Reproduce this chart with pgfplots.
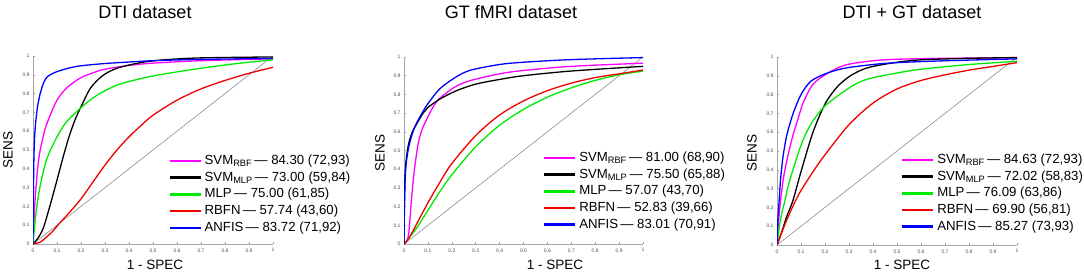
\documentclass[border=0pt]{standalone}
\usepackage{pgfplots}
\pgfplotsset{compat=1.18}
\usepackage{fontspec}
\setmainfont{Liberation Sans}
\definecolor{cmag}{RGB}{255,0,255}
\definecolor{cgreen}{RGB}{0,235,0}
\definecolor{cred}{RGB}{240,0,0}
\definecolor{cblue}{RGB}{0,0,255}
\pgfplotsset{
  rocaxis/.style={
    scale only axis, width=240pt, height=188pt,
    xmin=0, xmax=1, ymin=0, ymax=1,
    axis lines=left, axis line style={-, black!35, line width=0.8pt},
    xtick={0,0.1,0.2,0.3,0.4,0.5,0.6,0.7,0.8,0.9,1},
    ytick={0,0.1,0.2,0.3,0.4,0.5,0.6,0.7,0.8,0.9,1},
    tick align=inside, major tick length=2pt, tick style={black!40, line width=0.5pt},
    ticklabel style={font=\fontsize{5}{6}\selectfont, text=black!70},
    /pgf/number format/assume math mode=true,
    xticklabel style={yshift=-1pt},
    legend cell align=left,
    legend image code/.code={\draw[line width=2.6pt] (0pt,0pt) -- (31pt,0pt);},
    legend style={draw=none, fill=none, inner sep=0pt, anchor=north west,
      font=\fontsize{13.2}{16}\selectfont, row sep=1pt, column sep=2.5pt,
      nodes={inner sep=0.35pt, text height=11pt, text depth=4pt}},
    every axis plot/.append style={line width=1.3pt, smooth},
  }
}
\begin{document}
\begin{tikzpicture}
\useasboundingbox (0pt,0pt) rectangle (1084pt,276pt);
% ---------------- Panel 1
\begin{axis}[rocaxis, anchor=south west, at={(33pt,32pt)},
  legend style={at={(0.5625,0.484)}}]
\addplot[black!45, line width=0.6pt, forget plot] coordinates {(0,0) (1,1)};
\addplot[cmag] coordinates {(0,0) (0.005,0.15) (0.01,0.26) (0.015,0.34) (0.02,0.41) (0.03,0.5) (0.05,0.61) (0.07,0.68) (0.1,0.765) (0.14,0.83) (0.2,0.885) (0.26,0.915) (0.3,0.93) (0.4,0.95) (0.5,0.962) (0.7,0.975) (1,0.985)};
\addlegendentry{SVM\textsubscript{RBF}\,— 84.30 (72,93)}
\addplot[black] coordinates {(0,0) (0.02,0.03) (0.043,0.085) (0.07,0.2) (0.1,0.34) (0.125,0.46) (0.15,0.57) (0.175,0.66) (0.2,0.73) (0.24,0.83) (0.29,0.895) (0.35,0.935) (0.45,0.965) (0.55,0.98) (0.7,0.99) (1,0.995)};
\addlegendentry{SVM\textsubscript{MLP}\,— 73.00 (59,84)}
\addplot[cgreen] coordinates {(0,0) (0.005,0.07) (0.01,0.13) (0.015,0.19) (0.03,0.31) (0.057,0.45) (0.1,0.57) (0.14,0.65) (0.2,0.725) (0.265,0.79) (0.35,0.845) (0.45,0.88) (0.55,0.905) (0.7,0.935) (0.85,0.96) (1,0.98)};
\addlegendentry{MLP\,— 75.00 (61,85)}
\addplot[cred] coordinates {(0,0) (0.03,0.01) (0.05,0.03) (0.08,0.065) (0.11,0.11) (0.15,0.165) (0.2,0.24) (0.25,0.33) (0.3,0.42) (0.35,0.5) (0.4,0.57) (0.45,0.63) (0.5,0.685) (0.6,0.765) (0.7,0.825) (0.8,0.87) (0.9,0.908) (1,0.94)};
\addlegendentry{RBFN\,— 57.74 (43,60)}
\addplot[cblue] coordinates {(0,0) (0.003,0.4) (0.006,0.55) (0.01,0.63) (0.015,0.69) (0.02,0.74) (0.03,0.8) (0.045,0.86) (0.06,0.89) (0.08,0.905) (0.1,0.917) (0.15,0.936) (0.2,0.948) (0.3,0.96) (0.4,0.968) (0.5,0.975) (0.7,0.982) (1,0.987)};
\addlegendentry{ANFIS\,— 83.72 (71,92)}
\end{axis}
% ---------------- Panel 2
\begin{axis}[rocaxis, anchor=south west, at={(404pt,32pt)}, width=239pt, height=187pt,
  legend style={at={(0.58,0.504)}}]
\addplot[black!45, line width=0.6pt, forget plot] coordinates {(0,0) (1,1)};
\addplot[cmag] coordinates {(0,0) (0.01,0.01) (0.02,0.06) (0.03,0.22) (0.04,0.36) (0.05,0.46) (0.06,0.54) (0.075,0.61) (0.1,0.68) (0.125,0.74) (0.15,0.78) (0.18,0.81) (0.22,0.845) (0.28,0.875) (0.4,0.91) (0.5,0.928) (0.7,0.95) (1,0.967)};
\addlegendentry{SVM\textsubscript{RBF}\,— 81.00 (68,90)}
\addplot[black] coordinates {(0,0) (0.002,0.25) (0.005,0.38) (0.01,0.46) (0.02,0.54) (0.035,0.6) (0.05,0.635) (0.08,0.7) (0.1,0.73) (0.15,0.775) (0.22,0.82) (0.3,0.855) (0.4,0.88) (0.5,0.9) (0.7,0.925) (1,0.95)};
\addlegendentry{SVM\textsubscript{MLP}\,— 75.50 (65,88)}
\addplot[cgreen] coordinates {(0,0) (0.05,0.08) (0.1,0.18) (0.15,0.28) (0.2,0.37) (0.3,0.52) (0.4,0.635) (0.5,0.72) (0.6,0.785) (0.7,0.835) (0.8,0.875) (0.9,0.905) (1,0.925)};
\addlegendentry{MLP\,— 57.07 (43,70)}
\addplot[cred] coordinates {(0,0) (0.02,0.03) (0.05,0.1) (0.1,0.22) (0.15,0.33) (0.2,0.43) (0.3,0.58) (0.4,0.69) (0.5,0.765) (0.6,0.82) (0.7,0.86) (0.8,0.89) (0.9,0.91) (1,0.93)};
\addlegendentry{RBFN\,— 52.83 (39,66)}
\addplot[cblue] coordinates {(0,0) (0.002,0.2) (0.005,0.35) (0.01,0.44) (0.02,0.52) (0.035,0.59) (0.05,0.64) (0.08,0.71) (0.1,0.75) (0.15,0.83) (0.22,0.895) (0.28,0.93) (0.4,0.96) (0.5,0.972) (0.7,0.986) (1,0.997)};
\addlegendentry{ANFIS\,— 83.01 (70,91)}
\end{axis}
% ---------------- Panel 3
\begin{axis}[rocaxis, anchor=south west, at={(777pt,31pt)},
  legend style={at={(0.515,0.495)}}]
\addplot[black!45, line width=0.6pt, forget plot] coordinates {(0,0) (1,1)};
\addplot[cmag] coordinates {(0,0) (0.005,0.1) (0.015,0.24) (0.03,0.38) (0.05,0.5) (0.07,0.6) (0.085,0.66) (0.11,0.76) (0.15,0.855) (0.2,0.905) (0.25,0.94) (0.3,0.962) (0.4,0.98) (0.5,0.988) (0.7,0.993) (1,0.996)};
\addlegendentry{SVM\textsubscript{RBF}\,— 84.63 (72,93)}
\addplot[black] coordinates {(0,0) (0.02,0.07) (0.04,0.15) (0.066,0.235) (0.1,0.39) (0.15,0.6) (0.2,0.75) (0.25,0.84) (0.3,0.895) (0.35,0.93) (0.4,0.95) (0.5,0.972) (0.6,0.985) (0.8,0.993) (1,0.997)};
\addlegendentry{SVM\textsubscript{MLP}\,— 72.02 (58,83)}
\addplot[cgreen] coordinates {(0,0) (0.01,0.1) (0.02,0.17) (0.033,0.235) (0.05,0.33) (0.1,0.53) (0.14,0.64) (0.2,0.74) (0.3,0.835) (0.35,0.87) (0.4,0.89) (0.5,0.915) (0.6,0.935) (0.8,0.96) (1,0.977)};
\addlegendentry{MLP\,— 76.09 (63,86)}
\addplot[cred] coordinates {(0,0) (0.03,0.1) (0.05,0.16) (0.075,0.23) (0.1,0.29) (0.15,0.39) (0.2,0.48) (0.3,0.64) (0.4,0.755) (0.5,0.83) (0.6,0.875) (0.7,0.905) (0.8,0.93) (0.9,0.95) (1,0.97)};
\addlegendentry{RBFN\,— 69.90 (56,81)}
\addplot[cblue] coordinates {(0,0) (0.003,0.12) (0.007,0.2) (0.015,0.35) (0.025,0.47) (0.04,0.58) (0.055,0.65) (0.07,0.71) (0.1,0.8) (0.14,0.87) (0.2,0.91) (0.28,0.94) (0.4,0.96) (0.5,0.97) (0.7,0.98) (1,0.99)};
\addlegendentry{ANFIS\,— 85.27 (73,93)}
\end{axis}
% ---------------- Titles and labels
\node[font=\fontsize{18}{22}\selectfont] at (145pt,264pt) {DTI dataset};
\node[font=\fontsize{18}{22}\selectfont] at (511pt,264pt) {GT fMRI dataset};
\node[font=\fontsize{18}{22}\selectfont] at (912pt,264pt) {DTI + GT dataset};
\node[font=\fontsize{13.5}{16}\selectfont] at (155pt,11pt) {1 - SPEC};
\node[font=\fontsize{13.5}{16}\selectfont] at (555pt,11pt) {1 - SPEC};
\node[font=\fontsize{13.5}{16}\selectfont] at (902pt,11pt) {1 - SPEC};
\node[font=\fontsize{13.5}{16}\selectfont, rotate=90] at (8pt,126pt) {SENS};
\node[font=\fontsize{13.5}{16}\selectfont, rotate=90] at (380pt,123pt) {SENS};
\node[font=\fontsize{13.5}{16}\selectfont, rotate=90] at (752pt,123pt) {SENS};
\end{tikzpicture}
\end{document}
